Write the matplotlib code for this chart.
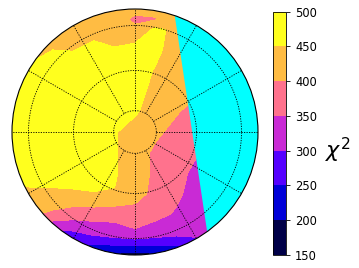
import numpy as np
import matplotlib
matplotlib.use("Agg")
from matplotlib import pyplot as plt
from matplotlib.patches import Circle, Polygon

# grid nodes on the unit disc (x to the right, y up)
x_nodes = [-1.0, -0.833, -0.667, -0.5, -0.333, -0.167, 0.0, 0.167, 0.333, 0.5, 0.667, 0.833, 1.0]
y_nodes = [1.0, 0.917, 0.833, 0.667, 0.5, 0.333, 0.167, 0.0,
           -0.167, -0.333, -0.5, -0.667, -0.833, -0.917, -1.0]

# chi^2, one row per y node (top to bottom)
chi2 = [
    [420, 420, 420, 420, 420, 420, 415, 420, 430, 430, 430, 430, 430],
    [420, 420, 420, 420, 425, 420, 390, 395, 430, 430, 430, 430, 430],
    [420, 420, 420, 430, 425, 420, 410, 460, 440, 430, 420, 420, 420],
    [430, 430, 450, 448, 470, 455, 470, 465, 420, 420, 420, 420, 420],
    [455, 465, 475, 480, 480, 480, 480, 445, 425, 420, 420, 420, 420],
    [480, 480, 485, 490, 490, 490, 480, 425, 420, 410, 410, 410, 410],
    [480, 480, 485, 490, 490, 470, 458, 420, 405, 380, 380, 380, 380],
    [480, 480, 485, 490, 480, 455, 425, 410, 385, 380, 380, 380, 380],
    [480, 480, 480, 480, 470, 455, 425, 390, 375, 355, 355, 355, 355],
    [470, 475, 475, 475, 470, 455, 425, 390, 370, 335, 335, 335, 335],
    [430, 440, 440, 443, 448, 448, 420, 385, 360, 330, 330, 330, 330],
    [420, 405, 390, 375, 375, 370, 380, 365, 345, 330, 330, 330, 330],
    [330, 300, 270, 285, 305, 320, 338, 320, 308, 315, 315, 315, 315],
    [280, 280, 260, 250, 248, 252, 252, 252, 252, 260, 280, 280, 280],
    [250, 250, 250, 230, 210, 190, 180, 190, 210, 230, 250, 250, 250],
]

# area without a fit (right side of the disc)
nodata_x = [0.30, 0.63, 1.1, 1.1]
nodata_y = [1.1, -1.1, -1.1, 1.1]

levels = [150, 200, 250, 300, 350, 400, 450, 500]
parallels = [10, 30, 60]          # colatitude of the grid circles, degrees
meridians = list(range(0, 360, 30))


fig = plt.figure(figsize=(3.59, 2.68), dpi=100)
ax = fig.add_axes([12 / 359, 13 / 268, 246 / 359, 246 / 268])
ax.set_xlim(-1, 1)
ax.set_ylim(-1, 1)
ax.set_aspect("equal")
ax.set_axis_off()

disc = Circle((0, 0), 1, transform=ax.transData)

X, Y = np.meshgrid(x_nodes, y_nodes)
cs = ax.contourf(X, Y, np.array(chi2), levels=levels, cmap="gnuplot2")
cs.set_clip_path(disc)

nodata = Polygon(np.column_stack([nodata_x, nodata_y]), closed=True,
                 facecolor="cyan", edgecolor="none", zorder=2)
ax.add_patch(nodata)
nodata.set_clip_path(disc)

# map grid
t = np.linspace(0, 2 * np.pi, 400)
for lat in parallels:
    r = np.sin(np.radians(lat))
    ax.plot(r * np.cos(t), r * np.sin(t), color="k", lw=0.6,
            linestyle=(0, (1.5, 1.5)), zorder=3)
r0 = np.sin(np.radians(parallels[0]))
for lon in meridians:
    a = np.radians(lon)
    ax.plot([r0 * np.cos(a), np.cos(a)], [r0 * np.sin(a), np.sin(a)], color="k",
            lw=0.6, linestyle=(0, (1.5, 1.5)), zorder=3)

ax.add_patch(Circle((0, 0), 1, fill=False, edgecolor="k", lw=0.8,
                    zorder=4, clip_on=False))

cax = fig.add_axes([273 / 359, 13 / 268, 13 / 359, 243.3 / 268])
cbar = fig.colorbar(cs, cax=cax, ticks=levels)
cbar.ax.tick_params(labelsize=8.3, length=3, width=0.6)
cbar.outline.set_linewidth(0.6)

fig.text(338 / 359, 1 - 150 / 268, r"$\chi^2$", fontsize=16, ha="center", va="center")

fig.savefig("out.png", dpi=100)
